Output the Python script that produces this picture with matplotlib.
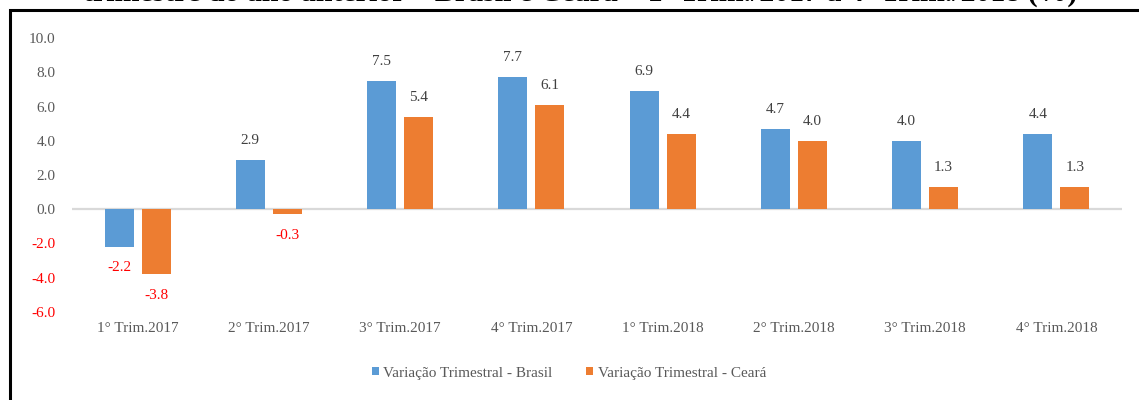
import matplotlib
matplotlib.use("Agg")
import matplotlib.pyplot as plt
import numpy as np
from matplotlib.patches import Rectangle

categories = ["1° Trim.2017", "2° Trim.2017", "3° Trim.2017", "4° Trim.2017",
              "1° Trim.2018", "2° Trim.2018", "3° Trim.2018", "4° Trim.2018"]
brasil = [-2.2, 2.9, 7.5, 7.7, 6.9, 4.7, 4.0, 4.4]
ceara = [-3.8, -0.3, 5.4, 6.1, 4.4, 4.0, 1.3, 1.3]
yticks = [-6.0, -4.0, -2.0, 0.0, 2.0, 4.0, 6.0, 8.0, 10.0]
series_names = ["Variação Trimestral - Brasil", "Variação Trimestral - Ceará"]
title = "trimestre do ano anterior – Brasil e Ceará – 1º Trim./2017 a 4º Trim./2018 (%)"

BLUE = "#5B9BD5"
ORANGE = "#ED7D31"
GRAY = "#595959"
RED = "#FF0000"
SERIF = ["Liberation Serif", "DejaVu Serif"]

plt.rcParams["font.family"] = SERIF

W, H = 1139, 400
fig = plt.figure(figsize=(W / 100, H / 100), dpi=100)
ax = fig.add_axes([72 / W, 1 - 312 / H, 1050 / W, (312 - 38) / H])

x = np.arange(len(categories))
bw = 0.222
off = 0.141
b1 = ax.bar(x - off, brasil, bw, color=BLUE, label=series_names[0], zorder=2)
b2 = ax.bar(x + off, ceara, bw, color=ORANGE, label=series_names[1], zorder=2)

ax.set_xlim(-0.5, len(categories) - 0.5)
ax.set_ylim(-6, 10)
ax.axhline(0, color="#D9D9D9", lw=1.6, zorder=1)

for s in ax.spines.values():
    s.set_visible(False)
ax.set_yticks(yticks)
ax.set_yticklabels([f"{v:.1f}" for v in yticks], fontsize=11)
for lbl, v in zip(ax.get_yticklabels(), yticks):
    lbl.set_color(RED if v < 0 else GRAY)
ax.set_xticks(x)
ax.set_xticklabels(categories, fontsize=11, color=GRAY)
ax.tick_params(axis="both", length=0)
ax.tick_params(axis="y", pad=12)
ax.tick_params(axis="x", pad=7)

for xs, vals in ((x - off, brasil), (x + off, ceara)):
    for xi, v in zip(xs, vals):
        if v >= 0:
            ax.annotate(f"{v:.1f}", (xi, v), xytext=(0, 14), textcoords="offset points",
                        ha="center", va="center", fontsize=11, color="#404040")
        else:
            ax.annotate(f"{v:.1f}", (xi, v), xytext=(0, -15), textcoords="offset points",
                        ha="center", va="center", fontsize=11, color=RED)

leg = fig.legend(handles=[b1, b2], loc="center", bbox_to_anchor=(569 / W, 1 - 373 / H),
                 ncol=2, frameon=False, fontsize=11, handlelength=0.45, handleheight=0.45,
                 handletextpad=0.3, columnspacing=2.2)
for t in leg.get_texts():
    t.set_color(GRAY)

fig.text(580 / W, 1 - 0.2 / H, title, ha="center", va="baseline", fontsize=21.5,
         fontweight="bold", family=SERIF, color="black")

fig.add_artist(Rectangle((9.5 / W, -0.1), 1.2, 1 - 9.5 / H + 0.1, transform=fig.transFigure,
                         fill=False, edgecolor="black", lw=2.2))

fig.savefig("out.png", dpi=100)
